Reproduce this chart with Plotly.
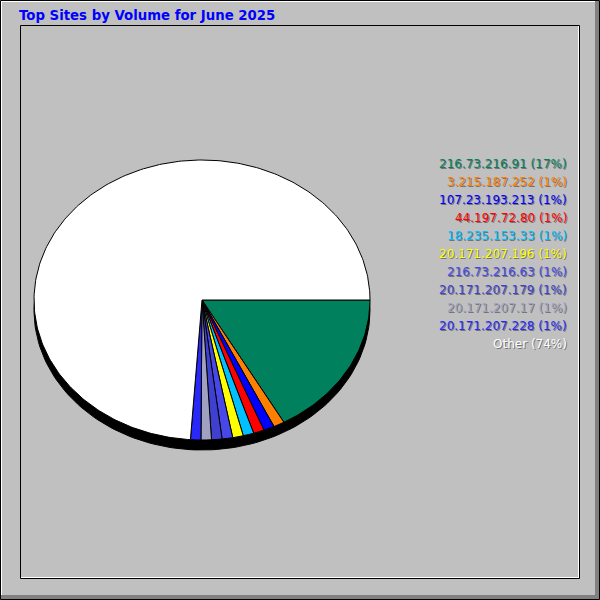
import numpy as np
import plotly.graph_objects as go

# top sites, June 2025 (volume share)
sites = ['216.73.216.91', '3.215.187.252', '107.23.193.213', '44.197.72.80',
         '18.235.153.33', '20.171.207.196', '216.73.216.63', '20.171.207.179',
         '20.171.207.17', '20.171.207.228', 'Other']
volume = [16.9, 1.05, 1.04, 1.03, 1.03, 1.02, 1.02, 1.01, 1.0, 1.0, 73.9]
colors = ['#00805c', '#ff8000', '#0000ff', '#ff0000', '#00c0ff', '#ffff00',
          '#4848e8', '#4040d0', '#a0a0c0', '#2828f8', '#ffffff']

title = 'Top Sites by Volume for June 2025'

cx, cy = 202, 300
rx, ry = 168, 140
depth = 10

fig = go.Figure()

# 3d shadow under the pie
t = np.linspace(0, 2 * np.pi, 200)
fig.add_trace(go.Scatter(x=cx + rx * np.cos(t), y=cy + depth + ry * np.sin(t),
                         fill='toself', fillcolor='black', mode='lines',
                         line=dict(color='black', width=1), hoverinfo='skip'))

total = sum(volume)
start = 0.0
for name, v, c in zip(sites, volume, colors):
    end = start + v / total * 2 * np.pi
    a = np.linspace(start, end, max(3, int((end - start) * 60)))
    xs = np.concatenate([[cx], cx + rx * np.cos(a), [cx]])
    ys = np.concatenate([[cy], cy + ry * np.sin(a), [cy]])
    fig.add_trace(go.Scatter(x=xs, y=ys, fill='toself', fillcolor=c, mode='lines',
                             line=dict(color='black', width=1), name=name,
                             hoverinfo='name'))
    start = end

# legend labels with small drop shadow
for i, (name, v, c) in enumerate(zip(sites, volume, colors)):
    txt = f'{name} ({round(v / total * 100)}%)'
    y = 164 + 18 * i
    fig.add_annotation(x=570, y=y + 1, text=txt, showarrow=False, xanchor='right',
                       yanchor='middle', font=dict(family='DejaVu Sans', size=12, color='#747474'))
    fig.add_annotation(x=569, y=y, text=txt, showarrow=False, xanchor='right',
                       yanchor='middle', font=dict(family='DejaVu Sans', size=12, color=c))

fig.add_annotation(x=17, y=15, text='<b>' + title + '</b>', showarrow=False,
                   xanchor='left', yanchor='middle',
                   font=dict(family='DejaVu Sans', size=13.3, color='#0000ff'))

shapes = [
    # outer frame
    dict(type='rect', x0=0.5, y0=0.5, x1=599.5, y1=599.5, line=dict(color='black', width=1)),
    dict(type='line', x0=1, y0=1.5, x1=595, y1=1.5, line=dict(color='white', width=1)),
    dict(type='line', x0=1.5, y0=1, x1=1.5, y1=595, line=dict(color='white', width=1)),
    dict(type='rect', x0=595, y0=1, x1=599, y1=599, fillcolor='#808080', line=dict(width=0)),
    dict(type='rect', x0=1, y0=595, x1=599, y1=599, fillcolor='#808080', line=dict(width=0)),
    # inner frame
    dict(type='rect', x0=20.5, y0=25.5, x1=579.5, y1=578.5, line=dict(color='black', width=1)),
    dict(type='line', x0=21, y0=577.5, x1=579, y1=577.5, line=dict(color='white', width=1)),
    dict(type='line', x0=578.5, y0=26, x1=578.5, y1=578, line=dict(color='white', width=1)),
]

fig.update_layout(
    width=600, height=600,
    margin=dict(l=0, r=0, t=0, b=0),
    paper_bgcolor='#c0c0c0', plot_bgcolor='#c0c0c0',
    showlegend=False,
    shapes=shapes,
    xaxis=dict(range=[0, 600], visible=False, fixedrange=True),
    yaxis=dict(range=[600, 0], visible=False, fixedrange=True),
)

# page body has a default 8px margin; drop it so the 600x600 figure fills the window
fig.write_html('out.html', config={'displayModeBar': False},
               post_script="document.body.style.margin='0';")
